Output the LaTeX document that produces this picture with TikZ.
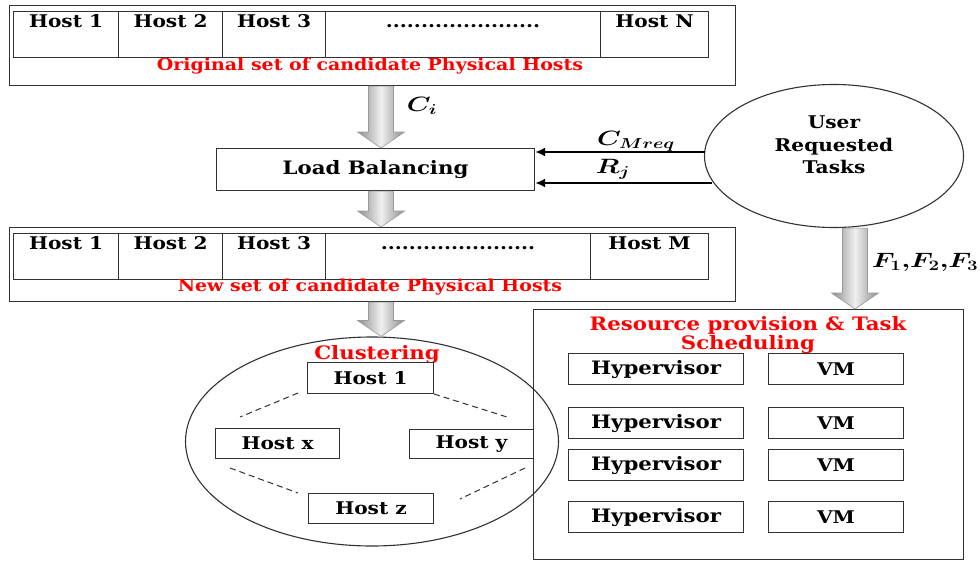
\documentclass[tikz,border=0pt]{standalone}
\usepackage{fontspec}
\usepackage{amsmath}
\usepackage{graphicx}
\setmainfont{DejaVu Serif}[FakeStretch=1.15]
\usetikzlibrary{calc,arrows.meta,shapes.geometric}
\definecolor{redtxt}{RGB}{255,0,0}
\definecolor{linec}{RGB}{50,50,50}
\newcommand\barrow[3]{%
  \shade[left color=black!45,right color=black!45,middle color=black!6,draw=black!40,line width=0.6pt]
   let \p1=(#2), \p2=(#3) in
   (#1pt-12.5pt,\y1) -- (#1pt+12.5pt,\y1) -- (#1pt+12.5pt,\y2+16pt) -- (#1pt+23.5pt,\y2+16pt)
   -- (#1pt,\y2) -- (#1pt-23.5pt,\y2+16pt) -- (#1pt-12.5pt,\y2+16pt) -- cycle;}
\newcommand\wmath[1]{\scalebox{1.3}[1]{$#1$}}
\begin{document}
\begin{tikzpicture}[x=1pt,y=-1pt,
  box/.style={draw=linec,line width=1.1pt,inner sep=0pt,anchor=north west},
  cell/.style={box,minimum height=46,text height=16,text depth=30,font=\fontsize{17.5}{20}\selectfont\bfseries},
  hbox/.style={box,minimum height=31,font=\fontsize{17.5}{20}\selectfont\bfseries},
  redt/.style={text=redtxt,font=\fontsize{16.5}{19}\selectfont\bfseries,inner sep=0pt},
  redbig/.style={text=redtxt,font=\fontsize{18.5}{19}\selectfont\bfseries,inner sep=0pt,align=center},
  mathl/.style={inner sep=0pt,font=\fontsize{20}{22}\selectfont\boldmath},
  harrow/.style={draw=black,line width=2.2pt,-{Latex[length=10pt,width=9pt]}},
  dashlink/.style={draw=linec,line width=1pt,dash pattern=on 6pt off 4pt}]
\useasboundingbox (0,0) rectangle (980,562);
\fill[white] (0,0) rectangle (980,562);

% top set
\node[box,minimum width=726,minimum height=80] (top) at (9,5) {};
\node[cell,minimum width=105] (a1) at (13,11) {Host 1};
\node[cell,minimum width=104] (a2) at (118,11) {Host 2};
\node[cell,minimum width=103] (a3) at (222,11) {Host 3};
\node[cell,minimum width=275] (a4) at (325,11) {......................};
\node[cell,minimum width=108] (a5) at (600,11) {Host N};
\node[redt] (t1) at (370,66) {Original set of candidate Physical Hosts};

% load balancing
\node[box,minimum width=318,minimum height=42,font=\fontsize{18.5}{20}\selectfont\bfseries] (lb) at (216,148) {Load Balancing};

% new set
\node[box,minimum width=726,minimum height=74] (new) at (9,227) {};
\node[cell,minimum width=105] (b1) at (13,233) {Host 1};
\node[cell,minimum width=104] (b2) at (118,233) {Host 2};
\node[cell,minimum width=103] (b3) at (222,233) {Host 3};
\node[cell,minimum width=265] (b4) at (325,233) {......................};
\node[cell,minimum width=118] (b5) at (590,233) {Host M};
\node[redt] (t2) at (370,287) {New set of candidate Physical Hosts};

% user tasks
\node[draw=linec,line width=1.1pt,ellipse,inner sep=0pt,minimum width=259,minimum height=143] (user) at (834,156) {};
\node[align=center,font=\fontsize{17.5}{22.5}\selectfont\bfseries,inner sep=0pt] (usert) at (834,145) {User\\Requested\\Tasks};

% clustering
\node[draw=linec,line width=1.1pt,ellipse,inner sep=0pt,minimum width=373,minimum height=209] (clus) at (372,441.5) {};
\node[redbig] (ct) at (377,355) {Clustering};
\node[hbox,minimum width=126] (c1) at (307,362) {Host 1};
\node[hbox,minimum width=124,minimum height=30] (cx) at (215,428) {Host x};
\node[hbox,minimum width=124,minimum height=29] (cy) at (409,429) {Host y};
\node[hbox,minimum width=125,minimum height=30] (cz) at (308,493) {Host z};

% resource provision
\node[box,minimum width=430,minimum height=250] (res) at (533,309) {};
\node[redbig] (rt) at (748,335) {Resource provision \& Task\\Scheduling};
\node[hbox,minimum width=175,font=\fontsize{18.5}{20}\selectfont\bfseries] (h1) at (568,353) {Hypervisor};
\node[hbox,minimum width=135] (v1) at (768,353) {VM};
\node[hbox,minimum width=175,font=\fontsize{18.5}{20}\selectfont\bfseries] (h2) at (568,407) {Hypervisor};
\node[hbox,minimum width=135] (v2) at (768,407) {VM};
\node[hbox,minimum width=175,font=\fontsize{18.5}{20}\selectfont\bfseries] (h3) at (568,449) {Hypervisor};
\node[hbox,minimum width=135] (v3) at (768,449) {VM};
\node[hbox,minimum width=175,font=\fontsize{18.5}{20}\selectfont\bfseries] (h4) at (568,501) {Hypervisor};
\node[hbox,minimum width=135] (v4) at (768,501) {VM};

% block arrows
\barrow{381}{top.south}{lb.north}
\barrow{381}{lb.south}{new.north}
\barrow{381}{new.south}{clus.north}
\barrow{855}{user.south}{res.north}

% labels
\node[mathl] (ci) at (422,106) {\wmath{C_i}};
\node[mathl] (cm) at (636,141) {\wmath{C_{Mreq}}};
\node[mathl] (rj) at (613,169) {\wmath{R_j}};
\node[mathl] (ff) at (925,262) {\wmath{F_1{,}F_2{,}F_3}};

% request arrows
\coordinate (u1) at (705,152);
\coordinate (u2) at (712,183);
\draw[harrow] (u1) -- (u1 -| lb.east);
\draw[harrow] (u2) -- (u2 -| lb.east);

% dashed links
\coordinate (d1a) at (298,393); \coordinate (d1b) at (240,417);
\coordinate (d2a) at (434,394); \coordinate (d2b) at (507,417);
\coordinate (d3a) at (230,468); \coordinate (d3b) at (298,493);
\coordinate (d4a) at (525,468); \coordinate (d4b) at (460,499);
\draw[dashlink] (d1a) -- (d1b);
\draw[dashlink] (d2a) -- (d2b);
\draw[dashlink] (d3a) -- (d3b);
\draw[dashlink] (d4a) -- (d4b);
\end{tikzpicture}
\end{document}
